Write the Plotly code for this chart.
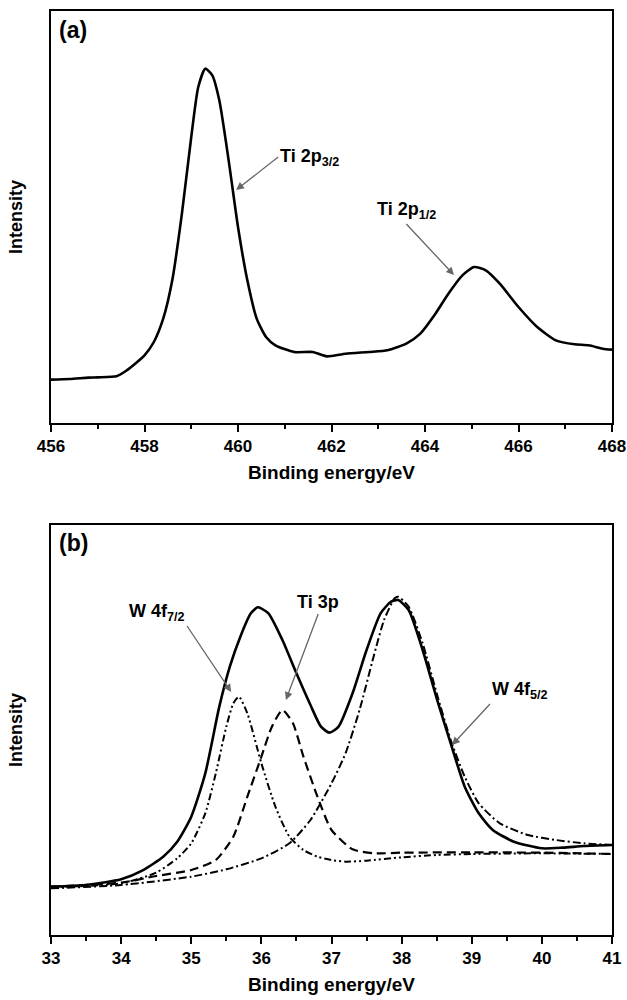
import plotly.graph_objects as go

# ---------------- Panel (a): Ti 2p ----------------
a_energy = [456.0, 456.4, 456.8, 457.0, 457.4, 457.6, 457.8, 458.0, 458.2, 458.4, 458.6, 458.8,
            459.0, 459.15, 459.3, 459.45, 459.6, 459.8, 460.0, 460.2, 460.4, 460.6, 460.8,
            461.2, 461.6, 461.9, 462.3, 462.8, 463.2, 463.6, 463.9, 464.2, 464.5, 464.8,
            465.05, 465.3, 465.6, 466.0, 466.4, 466.8, 467.2, 467.5, 467.8, 468.0]
a_intensity = [130, 132, 136, 137, 140, 156, 178, 203, 243, 313, 433, 628,
               858, 1008, 1063, 1043, 968, 788, 588, 428, 313, 258, 233,
               213, 213, 200, 208, 213, 218, 238, 268, 323, 388, 443,
               468, 458, 418, 348, 288, 248, 236, 233, 223, 220]

# ---------------- Panel (b): W 4f / Ti 3p ----------------
b_env_x = [33.0, 33.5, 34.0, 34.3, 34.6, 34.8, 35.0, 35.2, 35.4, 35.55, 35.7, 35.85, 35.95,
           36.1, 36.3, 36.5, 36.7, 36.85, 36.97, 37.1, 37.3, 37.5, 37.7, 37.85, 37.95,
           38.1, 38.3, 38.5, 38.7, 38.9, 39.1, 39.3, 39.6, 40.0, 40.3, 40.6, 41.0]
b_env_y = [145, 150, 167, 193, 235, 280, 355, 485, 685, 805, 895, 965, 983,
           965, 885, 785, 690, 625, 607, 625, 725, 855, 965, 1000, 1005,
           975, 855, 710, 575, 445, 365, 315, 280, 260, 262, 267, 270]

b_w72_x = [33.0, 34.0, 34.5, 34.8, 35.0, 35.2, 35.35, 35.5, 35.6, 35.68, 35.8, 36.0, 36.2,
           36.4, 36.6, 36.8, 37.0, 37.2, 37.5, 38.0, 38.5, 39.0, 40.0, 41.0]
b_w72_y = [143, 155, 187, 230, 275, 365, 485, 625, 695, 715, 665, 515, 385,
           295, 255, 235, 225, 220, 223, 233, 240, 243, 245, 243]

b_ti3p_x = [33.0, 34.0, 34.5, 35.0, 35.35, 35.6, 35.8, 36.0, 36.15, 36.3, 36.45, 36.6,
            36.8, 37.0, 37.3, 37.6, 38.0, 39.0, 40.0, 41.0]
b_ti3p_y = [145, 157, 177, 195, 225, 295, 415, 535, 625, 675, 635, 535,
            415, 315, 257, 245, 247, 248, 247, 243]

b_w52_x = [33.0, 34.0, 35.0, 35.5, 36.0, 36.4, 36.7, 37.0, 37.2, 37.4, 37.6, 37.75,
           37.9, 37.95, 38.1, 38.3, 38.5, 38.7, 38.9, 39.1, 39.4, 39.8, 40.2, 40.6, 41.0]
b_w52_y = [140, 150, 175, 197, 230, 275, 345, 455, 545, 675, 835, 945,
           1010, 1015, 985, 875, 725, 585, 475, 395, 335, 300, 285, 275, 270]

a_ticks = [456, 458, 460, 462, 464, 466, 468]
b_ticks = [33, 34, 35, 36, 37, 38, 39, 40, 41]

FONT = "Liberation Sans, Arial, sans-serif"

fig = go.Figure()
fig.add_trace(go.Scatter(x=a_energy, y=a_intensity, mode="lines",
                         line=dict(color="black", width=2.6, shape="spline", smoothing=0.6),
                         xaxis="x", yaxis="y", showlegend=False))

fig.add_trace(go.Scatter(x=b_w72_x, y=b_w72_y, mode="lines",
                         line=dict(color="black", width=2, dash="7px,3px,2px,3px,2px,3px", shape="spline", smoothing=0.6),
                         xaxis="x2", yaxis="y2", showlegend=False))
fig.add_trace(go.Scatter(x=b_ti3p_x, y=b_ti3p_y, mode="lines",
                         line=dict(color="black", width=2.2, dash="9px,5px", shape="spline", smoothing=0.6),
                         xaxis="x2", yaxis="y2", showlegend=False))
fig.add_trace(go.Scatter(x=b_w52_x, y=b_w52_y, mode="lines",
                         line=dict(color="black", width=2, dash="8px,3px,2px,3px", shape="spline", smoothing=0.6),
                         xaxis="x2", yaxis="y2", showlegend=False))
fig.add_trace(go.Scatter(x=b_env_x, y=b_env_y, mode="lines",
                         line=dict(color="black", width=2.6, shape="spline", smoothing=0.6),
                         xaxis="x2", yaxis="y2", showlegend=False))


def xax(domain, rng, ticks, anchor):
    return dict(domain=domain, range=rng, tickvals=ticks, ticktext=["<b>%d</b>" % t for t in ticks],
                showline=True, linecolor="black", linewidth=2, mirror=True,
                ticks="outside", ticklen=7, tickwidth=2, tickcolor="black",
                minor=dict(ticks="outside", ticklen=4, tickwidth=2, tickcolor="black",
                           dtick=(ticks[1] - ticks[0]) / 2, tick0=ticks[0]),
                showgrid=False, zeroline=False, anchor=anchor, automargin=False,
                tickfont=dict(family=FONT, size=17, color="black", weight="bold"),
                title=dict(text="<b>Binding energy/eV</b>", font=dict(family=FONT, size=19, color="black"), standoff=10))


def yax(domain, rng, anchor):
    return dict(domain=domain, range=rng, showline=True, linecolor="black", linewidth=2, mirror=True,
                ticks="", showticklabels=False, showgrid=False, zeroline=False, anchor=anchor,
                automargin=False,
                title=dict(text="<b>Intensity</b>", font=dict(family=FONT, size=18, color="black"), standoff=22))


fig.update_layout(
    width=627, height=1000,
    margin=dict(l=0, r=0, t=0, b=0),
    paper_bgcolor="white", plot_bgcolor="white",
    xaxis=xax([51 / 627, 612 / 627], [456, 468], a_ticks, "y"),
    yaxis=yax([1 - 423 / 1000, 1 - 11 / 1000], [0, 1236], "x"),
    xaxis2=xax([51 / 627, 612 / 627], [33, 41], b_ticks, "y2"),
    yaxis2=yax([1 - 935 / 1000, 1 - 525 / 1000], [0, 1230], "x2"),
)

ann = []


def label_arrow(text, tx, ty, hx, hy, xr, yr, xanchor, yanchor):
    ann.append(dict(text=text, x=hx, y=hy, ax=tx, ay=ty, xref=xr, yref=yr, axref=xr, ayref=yr,
                    xanchor=xanchor, yanchor=yanchor, showarrow=True, arrowhead=2, arrowsize=1.2,
                    arrowwidth=1.3, arrowcolor="#666666",
                    font=dict(family=FONT, size=18, color="black")))


# panel labels
ann.append(dict(text="<b>(a)</b>", x=57 / 627, y=1 - 15 / 1000, xref="paper", yref="paper", showarrow=False,
                xanchor="left", yanchor="top", font=dict(family=FONT, size=23, color="black")))
ann.append(dict(text="<b>(b)</b>", x=57 / 627, y=1 - 528 / 1000, xref="paper", yref="paper", showarrow=False,
                xanchor="left", yanchor="top", font=dict(family=FONT, size=23, color="black")))

# panel (a) annotations
label_arrow("<b>Ti 2p<sub>3/2</sub></b>", 460.86, 798, 459.96, 699, "x", "y", "left", "middle")
label_arrow("<b>Ti 2p<sub>1/2</sub></b>", 463.6, 597, 464.62, 444, "x", "y", "center", "bottom")

# panel (b) annotations
label_arrow("<b>W 4f<sub>7/2</sub></b>", 34.94, 927, 35.57, 729, "x2", "y2", "right", "bottom")
label_arrow("<b>Ti 3p</b>", 36.81, 963, 36.35, 705, "x2", "y2", "center", "bottom")
label_arrow("<b>W 4f<sub>5/2</sub></b>", 39.26, 693, 38.72, 570, "x2", "y2", "left", "bottom")

fig.update_layout(annotations=ann)
fig.write_html("out.html")
